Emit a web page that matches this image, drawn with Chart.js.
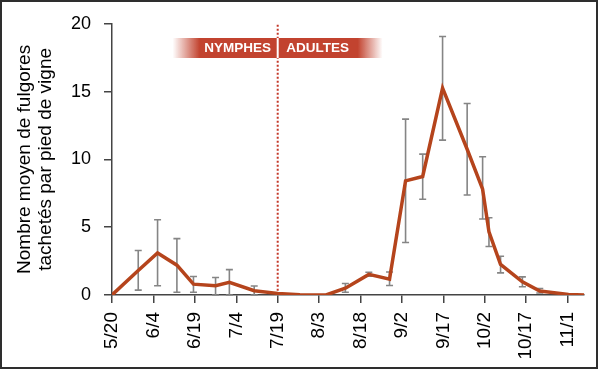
<!DOCTYPE html>
<html>
<head>
<meta charset="utf-8">
<script src="https://cdn.jsdelivr.net/npm/chart.js@4/dist/chart.umd.min.js"></script>
<style>
  html, body { margin: 0; padding: 0; background: #fff; }
  #wrap { position: relative; width: 600px; height: 370px; }
  #frame { position: absolute; left: 0; top: 0; width: 598px; height: 369px; border: 2px solid #2e2e2e; box-sizing: border-box; pointer-events: none; }
</style>
</head>
<body>
<div id="wrap">
  <canvas id="c" width="600" height="370"></canvas>
  <div id="frame"></div>
</div>
<script>
// Sampling dates, expressed as days since 5/20
const sampleDays = [0, 9.5, 16.5, 23.5, 29.5, 37.5, 42.5, 51.5, 60, 68, 77.5, 84.5, 93, 100.5, 106.3, 112.5, 119.7, 128.6, 134.2, 136.5, 140.7, 148.6, 154.9, 165.3, 171];
// Mean number of spotted lanternflies per vine
const meanCounts = [0, 1.8, 3.1, 2.2, 0.8, 0.68, 0.93, 0.32, 0.12, 0.02, 0, 0.5, 1.52, 1.17, 8.42, 8.74, 15.25, 10.75, 7.8, 4.65, 2.25, 0.97, 0.3, 0.04, 0];
// Error bar bounds (null = no bar)
const errLow  = [null, 0.36, 0.68, 0.2, 0.2, 0, 0, 0, null, null, null, 0.2, 1.38, 0.7, 3.87, 7.06, 11.42, 7.37, 5.6, 3.58, 1.63, 0.61, 0.15, null, null];
const errHigh = [null, 3.28, 5.55, 4.16, 1.36, 1.29, 1.87, 0.66, null, null, null, 0.85, 1.68, 1.7, 12.97, 10.39, 19.06, 14.12, 10.2, 5.7, 2.86, 1.34, 0.48, null, null];
// X axis ticks (days since 5/20) and their labels
const tickDays = [0, 15, 30, 45, 60, 75, 90, 105, 120, 135, 150, 165];
const tickLabels = ['5/20', '6/4', '6/19', '7/4', '7/19', '8/3', '8/18', '9/2', '9/17', '10/2', '10/17', '11/1'];
const yTitle = ['Nombre moyen de fulgores', 'tachetés par pied de vigne'];
const phaseDay = 60; // nymphs -> adults
const phaseLabels = ['NYMPHES', 'ADULTES'];

const FONT = "'Liberation Sans', Arial, Helvetica, sans-serif";
Chart.defaults.font.family = FONT;

const errorBars = {
  id: 'errorBars',
  beforeDatasetsDraw(chart) {
    const { ctx, scales: { x, y } } = chart;
    ctx.save();
    ctx.strokeStyle = '#858585';
    ctx.lineWidth = 1.6;
    sampleDays.forEach((d, i) => {
      if (errLow[i] == null) return;
      const px = x.getPixelForValue(d);
      const y1 = y.getPixelForValue(errLow[i]);
      const y2 = y.getPixelForValue(errHigh[i]);
      ctx.beginPath();
      ctx.moveTo(px, y1); ctx.lineTo(px, y2);
      ctx.moveTo(px - 3.5, y1); ctx.lineTo(px + 3.5, y1);
      ctx.moveTo(px - 3.5, y2); ctx.lineTo(px + 3.5, y2);
      ctx.stroke();
    });
    // dotted phase line
    const xs = x.getPixelForValue(phaseDay);
    ctx.strokeStyle = '#c4382a';
    ctx.lineWidth = 2;
    ctx.setLineDash([2, 2]);
    ctx.beginPath();
    ctx.moveTo(xs, chart.chartArea.top + 1);
    ctx.lineTo(xs, chart.chartArea.bottom);
    ctx.stroke();
    ctx.restore();
  },
  afterDatasetsDraw(chart) {
    const { ctx, scales: { x } } = chart;
    const xs = x.getPixelForValue(phaseDay);
    const top = 38, h = 20;
    const left = xs - 105, right = xs + 105;
    const g = ctx.createLinearGradient(left, 0, right, 0);
    g.addColorStop(0, 'rgba(194,67,47,0)');
    g.addColorStop(27 / 210, 'rgba(194,67,47,1)');
    g.addColorStop(1 - 25 / 210, 'rgba(194,67,47,1)');
    g.addColorStop(1, 'rgba(194,67,47,0)');
    ctx.save();
    ctx.fillStyle = g;
    ctx.fillRect(left, top, right - left, h);
    ctx.strokeStyle = '#ffffff';
    ctx.lineWidth = 2;
    ctx.beginPath();
    ctx.moveTo(xs, top); ctx.lineTo(xs, top + h);
    ctx.stroke();
    ctx.fillStyle = '#ffffff';
    ctx.font = "bold 13.5px " + FONT;
    ctx.textAlign = 'center';
    ctx.textBaseline = 'middle';
    ctx.fillText(phaseLabels[0], xs - 40, top + h / 2 + 0.5);
    ctx.fillText(phaseLabels[1], xs + 40, top + h / 2 + 0.5);
    ctx.restore();
  }
};

new Chart(document.getElementById('c'), {
  type: 'line',
  data: {
    datasets: [{
      data: sampleDays.map((d, i) => ({ x: d, y: meanCounts[i] })),
      borderColor: '#b5441c',
      borderWidth: 3.5,
      pointRadius: 0,
      tension: 0,
      borderJoinStyle: 'miter',
      fill: false
    }]
  },
  options: {
    responsive: false,
    animation: false,
    devicePixelRatio: 1,
    layout: { padding: { left: 4, top: 21, right: 15, bottom: 0 } },
    plugins: { legend: { display: false }, tooltip: { enabled: false } },
    scales: {
      x: {
        type: 'linear',
        min: 0,
        max: 171,
        afterBuildTicks: s => { s.ticks = tickDays.map(v => ({ value: v })); },
        afterFit: s => { s.height = 75; },
        ticks: {
          autoSkip: false,
          minRotation: 90,
          maxRotation: 90,
          padding: 9,
          color: '#000',
          font: { size: 19 },
          callback: (v, i) => tickLabels[i]
        },
        grid: { drawOnChartArea: false, drawTicks: true, tickLength: 8, color: '#444', lineWidth: 1.5 },
        border: { color: '#444', width: 1.5 }
      },
      y: {
        min: 0,
        max: 20,
        afterFit: s => { s.width = 108; },
        ticks: { stepSize: 5, padding: 13, color: '#000', font: { size: 18 } },
        grid: { drawOnChartArea: false, drawTicks: true, tickLength: 8, color: '#444', lineWidth: 1.5 },
        border: { color: '#444', width: 1.5 },
        title: {
          display: true,
          text: yTitle,
          color: '#000',
          font: { size: 19, lineHeight: 1.1 },
          padding: { top: 10.5, bottom: 0 }
        }
      }
    }
  },
  plugins: [errorBars]
});
</script>
</body>
</html>
